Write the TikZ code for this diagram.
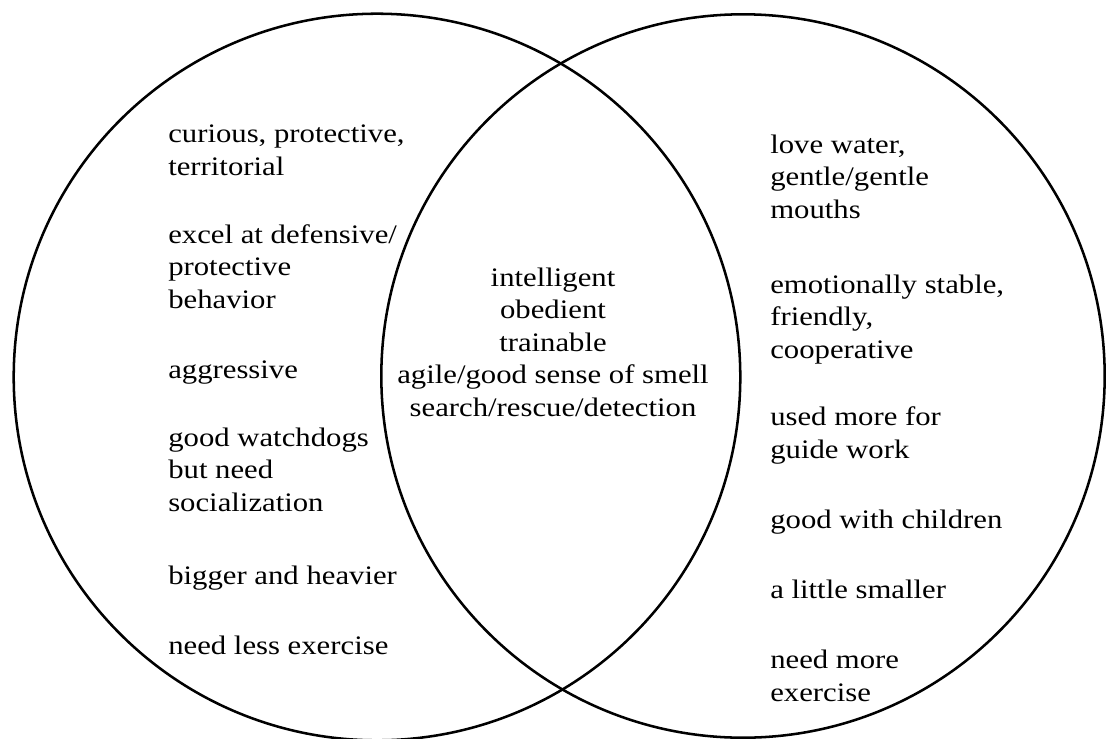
\documentclass[tikz,border=0pt]{standalone}
\usepackage{fontspec}
\setmainfont[FakeStretch=1.15]{Liberation Serif}
\begin{document}
\begin{tikzpicture}[x=0.025cm, y=-0.025cm,
	trait/.style={anchor=base west, align=left, inner sep=0pt, font=\fontsize{19}{23.1}\selectfont},
	shared/.style={anchor=base, align=center, inner sep=0pt, font=\fontsize{19}{23.1}\selectfont}]
	
	\useasboundingbox (0,0) rectangle (1106,738);
	
	% draw circles
	\draw[line width=1.8pt] (377,377) circle [radius=9.08cm];
	\draw[line width=1.8pt] (743,376) circle [radius=9.04cm];
	
	% left traits (placed at baseline of last line)
	\node[trait] (curious) at (168,175) {curious, protective,\\territorial};
	\node[trait] (excel) at (168,308) {excel at defensive/\\protective\\behavior};
	\node[trait] (aggressive) at (168,378) {aggressive};
	\node[trait] (watchdogs) at (168,511) {good watchdogs\\but need\\socialization};
	\node[trait] (bigger) at (168,584) {bigger and heavier};
	\node[trait] (lessex) at (168,654) {need less exercise};
	
	% right traits
	\node[trait] (water) at (770,218) {love water,\\gentle/gentle\\mouths};
	\node[trait] (stable) at (770,358) {emotionally stable,\\friendly,\\cooperative};
	\node[trait] (guide) at (770,458) {used more for\\guide work};
	\node[trait] (children) at (770,528) {good with children};
	\node[trait] (smaller) at (770,598) {a little smaller};
	\node[trait] (moreex) at (770,701) {need more\\exercise};
	
	% shared traits
	\node[shared] (common) at (553,416) {intelligent\\obedient\\trainable\\agile/good sense of smell\\search/rescue/detection};
\end{tikzpicture}
\end{document}
